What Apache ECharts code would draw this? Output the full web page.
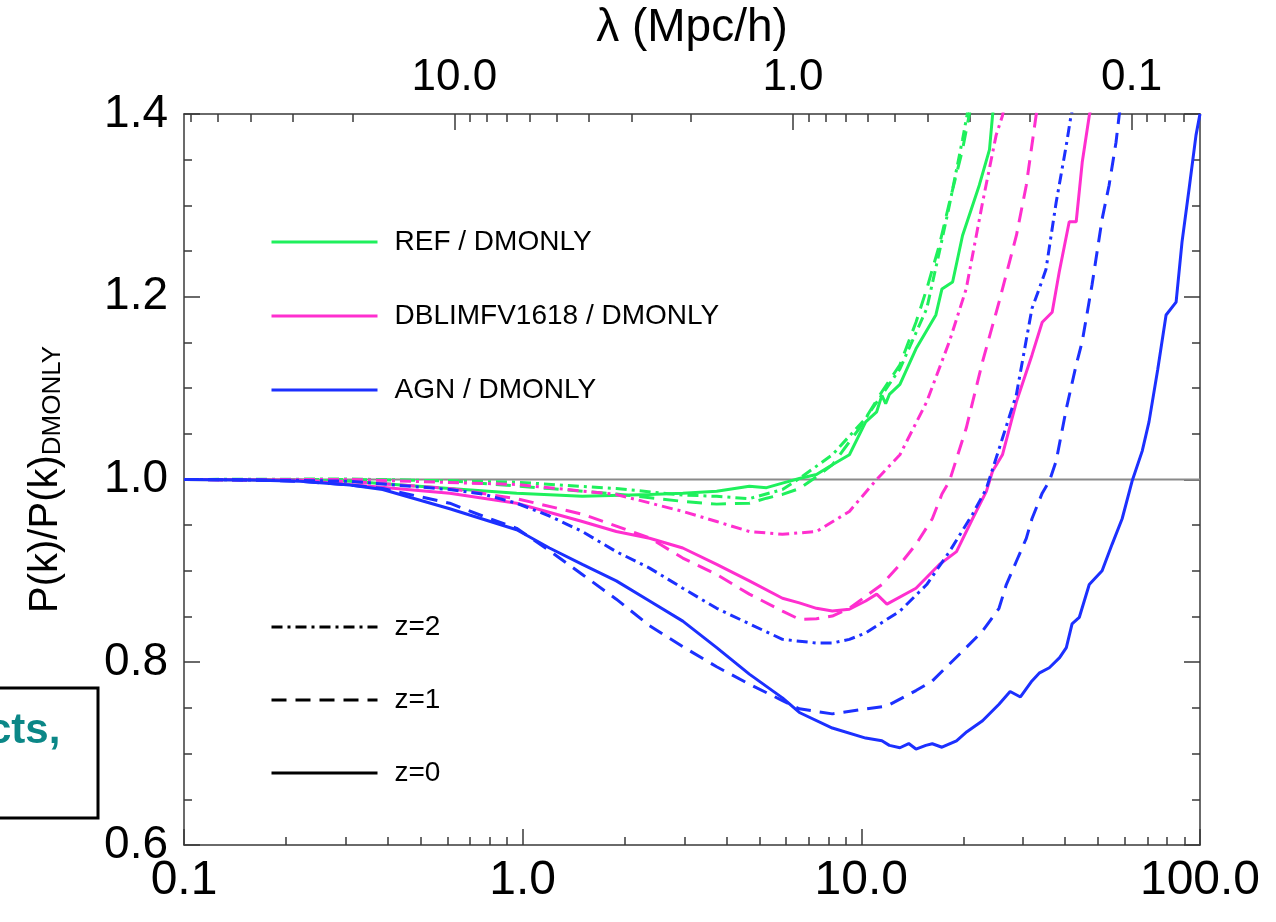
<!DOCTYPE html>
<html>
<head>
<meta charset="utf-8">
<script src="https://cdn.jsdelivr.net/npm/echarts@6/dist/echarts.min.js"></script>
<style>
html,body{margin:0;padding:0;background:#fff}
#chart{width:1276px;height:922px}
</style>
</head>
<body>
<div id="chart"></div>
<script>
/* P(k) ratio vs DMONLY, k in h/Mpc on bottom, lambda = 2pi/k on top */
var FONT = "'Liberation Sans', Arial, Helvetica, sans-serif";

var K_MAJOR = [0.1, 1, 10, 100];
var K_MINOR = [0.2,0.3,0.4,0.5,0.6,0.7,0.8,0.9, 2,3,4,5,6,7,8,9, 20,30,40,50,60,70,80,90];
var LAMBDA_MAJOR = [10, 1, 0.1];
var LAMBDA_MINOR = [0.07,0.08,0.09, 0.2,0.3,0.4,0.5,0.6,0.7,0.8,0.9, 2,3,4,5,6,7,8,9, 20,30,40,50,60];
var LAMBDA_MIN = 0.06283185, LAMBDA_MAX = 62.83185;

var UNITY = [[0.1,1.0],[100,1.0]];

var REF_Z0 = [[0.1,1.0],[0.22,0.9995],[0.309,0.998],[0.609,0.990],[0.96,0.985],[1.50,0.9815],[2.37,0.9835],
  [2.97,0.985],[3.74,0.987],[4.67,0.9925],[5.25,0.991],[5.85,0.996],[6.56,1.001],[7.37,1.0055],[8.21,1.016],
  [9.22,1.027],[10.3,1.063],[11.1,1.074],[11.5,1.092],[11.8,1.083],[12.1,1.093],[13.0,1.104],[14.5,1.143],
  [16.6,1.180],[17.3,1.2085],[18.6,1.216],[19.9,1.267],[22.3,1.322],[23.9,1.361],[24.4,1.398],[24.8,1.42]];
var REF_Z1 = [[0.1,1.0],[0.309,1.0],[0.61,0.9985],[1.2,0.990],[1.89,0.984],[2.97,0.976],[3.74,0.973],
  [4.67,0.974],[5.25,0.9795],[5.85,0.9836],[6.56,0.990],[7.37,1.003],[8.21,1.016],[9.87,1.056],[11.5,1.096],
  [13.0,1.1255],[14.5,1.172],[15.6,1.2085],[17.0,1.2565],[18.2,1.303],[19.9,1.361],[20.8,1.398],[21.3,1.42]];
var REF_Z2 = [[0.1,1.0],[0.309,1.0005],[0.96,0.997],[1.89,0.990],[2.97,0.983],[3.74,0.9815],[4.67,0.979],
  [5.85,0.989],[6.56,1.001],[8.21,1.027],[10.3,1.067],[13.0,1.121],[15.6,1.187],[17.0,1.249],[18.2,1.300],
  [19.1,1.339],[19.9,1.372],[20.5,1.398],[21.0,1.42]];

var DBL_Z0 = [[0.1,1.0],[0.22,0.9995],[0.309,0.9945],[0.609,0.985],[0.96,0.974],[1.50,0.954],[1.89,0.943],
  [2.37,0.9356],[2.97,0.925],[3.74,0.907],[4.67,0.889],[5.85,0.870],[6.56,0.865],[7.37,0.859],[8.21,0.856],
  [9.22,0.858],[10.3,0.867],[11.1,0.8745],[11.9,0.8636],[14.5,0.881],[17.0,0.907],[19.1,0.921],[21.3,0.957],
  [23.4,0.987],[24.4,1.009],[26.1,1.027],[28.7,1.085],[31.9,1.136],[34.2,1.172],[36.6,1.183],[38.4,1.227],
  [41.1,1.282],[43.1,1.282],[44.9,1.347],[47.1,1.398],[48.5,1.42]];
var DBL_Z1 = [[0.1,1.0],[0.309,0.998],[0.609,0.990],[0.96,0.979],[1.50,0.962],[2.37,0.936],[2.97,0.914],
  [3.74,0.896],[4.67,0.8745],[5.85,0.856],[6.56,0.847],[7.37,0.8475],[8.21,0.8505],[9.22,0.859],[11.5,0.885],
  [13.0,0.907],[14.5,0.929],[16.2,0.957],[17.3,0.984],[18.2,0.998],[20.4,1.056],[22.8,1.129],[25.5,1.194],
  [28.7,1.267],[30.7,1.322],[32.8,1.398],[33.5,1.42]];
var DBL_Z2 = [[0.1,1.0],[0.309,1.0],[0.96,0.9945],[1.89,0.9836],[2.97,0.965],[3.74,0.954],[4.67,0.943],
  [5.85,0.940],[7.37,0.943],[9.22,0.965],[11.1,1.0],[13.0,1.027],[15.6,1.085],[18.2,1.151],[20.4,1.2085],
  [22.8,1.303],[25.0,1.3765],[26.1,1.398],[26.8,1.42]];

var AGN_Z0 = [[0.1,1.0],[0.157,0.9995],[0.22,0.998],[0.309,0.994],[0.386,0.989],[0.609,0.968],[0.96,0.945],
  [1.20,0.925],[1.50,0.907],[1.89,0.889],[2.37,0.867],[2.97,0.845],[3.74,0.816],[4.67,0.787],[5.85,0.761],
  [6.56,0.745],[8.21,0.728],[10.3,0.717],[11.5,0.714],[12.1,0.709],[13.0,0.7064],[13.8,0.711],[14.5,0.705],
  [15.5,0.709],[16.2,0.7108],[17.3,0.707],[19.1,0.714],[20.5,0.724],[22.8,0.736],[25.5,0.754],[27.5,0.768],
  [29.5,0.762],[31.9,0.7795],[33.5,0.788],[35.9,0.794],[38.5,0.805],[40.3,0.816],[41.9,0.842],[44.0,0.849],
  [47.1,0.885],[51.4,0.900],[55.0,0.929],[58.9,0.957],[63.0,0.998],[67.5,1.031],[70.7,1.063],[75.0,1.120],
  [79.4,1.180],[85.0,1.194],[88.5,1.260],[93.0,1.320],[97.3,1.3765],[100,1.40]];
var AGN_Z1 = [[0.1,1.0],[0.157,0.9995],[0.22,0.998],[0.309,0.994],[0.386,0.990],[0.609,0.974],[0.762,0.960],
  [0.96,0.9465],[1.20,0.922],[1.50,0.896],[1.89,0.869],[2.37,0.840],[2.97,0.817],[3.74,0.795],[4.67,0.776],
  [5.85,0.758],[6.56,0.749],[8.21,0.7435],[10.3,0.749],[11.9,0.752],[14.5,0.769],[16.2,0.7795],[18.2,0.798],
  [20.4,0.816],[22.8,0.834],[25.5,0.859],[26.8,0.885],[28.7,0.9105],[30.7,0.9356],[31.9,0.957],[34.2,0.985],
  [35.9,0.998],[37.6,1.020],[40.3,1.0775],[43.1,1.1255],[44.9,1.151],[48.0,1.213],[51.4,1.285],[53.9,1.322],
  [56.5,1.369],[57.7,1.398],[59.0,1.42]];
var AGN_Z2 = [[0.1,1.0],[0.22,0.999],[0.309,0.998],[0.609,0.989],[0.762,0.984],[0.96,0.974],[1.20,0.960],
  [1.50,0.943],[1.89,0.921],[2.37,0.903],[2.97,0.881],[3.74,0.859],[4.67,0.842],[5.85,0.825],[7.37,0.821],
  [8.21,0.821],[9.22,0.825],[10.3,0.832],[13.0,0.856],[15.6,0.885],[18.2,0.921],[21.3,0.962],[23.4,0.990],
  [26.1,1.045],[28.7,1.093],[31.9,1.187],[33.5,1.2085],[35.1,1.230],[37.6,1.303],[40.3,1.366],[41.6,1.398],
  [43.0,1.42]];

var MODEL_NAMES = ["REF / DMONLY", "DBLIMFV1618 / DMONLY", "AGN / DMONLY"];
var Z_NAMES = ["z=2", "z=1", "z=0"];

var GREEN = "#1ff05c", MAGENTA = "#ff2fcf", BLUE = "#1c30ff", AXIS = "#3a3a3a";
var DASH = [15, 9], DASHDOT = [11, 5, 3, 5];

function line(name, data, color, dash){
  return { type:"line", name:name, data:data, xAxisIndex:0, yAxisIndex:0,
    showSymbol:false, symbol:"none", clip:true, silent:true, animation:false,
    lineStyle:{ color:color, width:3, type:dash }, itemStyle:{ color:color },
    emphasis:{ disabled:true } };
}
function fmt1(v){ return (+v).toFixed(1); }

var tickStyle = { color:AXIS, width:1.5 };
var lineAx = { show:true, onZero:false, lineStyle:{ color:AXIS, width:1.5 } };

var series = [
  line("unity", UNITY, "#8a8a8a", "solid"),
  line("REF z=2", REF_Z2, GREEN, DASHDOT),
  line("REF z=1", REF_Z1, GREEN, DASH),
  line("REF z=0", REF_Z0, GREEN, "solid"),
  line("DBL z=2", DBL_Z2, MAGENTA, DASHDOT),
  line("DBL z=1", DBL_Z1, MAGENTA, DASH),
  line("DBL z=0", DBL_Z0, MAGENTA, "solid"),
  line("AGN z=2", AGN_Z2, BLUE, DASHDOT),
  line("AGN z=1", AGN_Z1, BLUE, DASH),
  line("AGN z=0", AGN_Z0, BLUE, "solid"),
  /* legend-only entries */
  line(MODEL_NAMES[0], [], GREEN, "solid"),
  line(MODEL_NAMES[1], [], MAGENTA, "solid"),
  line(MODEL_NAMES[2], [], BLUE, "solid"),
  line(Z_NAMES[0], [], "#000", DASHDOT),
  line(Z_NAMES[1], [], "#000", DASH),
  line(Z_NAMES[2], [], "#000", "solid")
];
series[0].lineStyle.width = 2;

var legendText = { fontFamily:FONT, fontSize:28, color:"#000", lineHeight:28, padding:[0,0,0,12] };
var legendBase = { orient:"vertical", left:270, itemWidth:106, itemHeight:14, padding:0,
  selectedMode:false, textStyle:legendText, itemStyle:{ opacity:0 }, lineStyle:{ width:3 } };

var chart = echarts.init(document.getElementById("chart"), null, { renderer:"canvas" });
chart.setOption({
  animation:false,
  backgroundColor:"#fff",
  grid:{ left:184, right:76, top:112, bottom:77, containLabel:false },
  legend:[
    Object.assign({ data:MODEL_NAMES, top:228, itemGap:46 }, legendBase),
    Object.assign({ data:Z_NAMES, top:613, itemGap:45 }, legendBase)
  ],
  xAxis:[
    { type:"log", logBase:10, min:0.1, max:100, position:"bottom",
      axisLine:lineAx,
      axisTick:{ show:true, inside:true, length:16, customValues:K_MAJOR, lineStyle:tickStyle },
      axisLabel:{ customValues:K_MAJOR, formatter:fmt1, margin:12, fontSize:48, color:"#000", fontFamily:FONT },
      splitLine:{ show:false } },
    { type:"log", logBase:10, min:0.1, max:100, position:"bottom",
      axisLine:{ show:false },
      axisTick:{ show:true, inside:true, length:8, customValues:K_MINOR, lineStyle:tickStyle },
      axisLabel:{ show:false }, splitLine:{ show:false } },
    { type:"log", logBase:10, min:LAMBDA_MIN, max:LAMBDA_MAX, inverse:true, position:"top",
      axisLine:lineAx,
      axisTick:{ show:true, inside:true, length:16, customValues:LAMBDA_MAJOR, lineStyle:tickStyle },
      axisLabel:{ customValues:LAMBDA_MAJOR, formatter:fmt1, margin:14, fontSize:44, color:"#000", fontFamily:FONT },
      splitLine:{ show:false },
      name:"\u03bb (Mpc/h)", nameLocation:"middle", nameGap:58,
      nameTextStyle:{ fontSize:46, color:"#000", fontFamily:FONT } },
    { type:"log", logBase:10, min:LAMBDA_MIN, max:LAMBDA_MAX, inverse:true, position:"top",
      axisLine:{ show:false },
      axisTick:{ show:true, inside:true, length:8, customValues:LAMBDA_MINOR, lineStyle:tickStyle },
      axisLabel:{ show:false }, splitLine:{ show:false } }
  ],
  yAxis:[
    { type:"value", min:0.6, max:1.4, interval:0.2, position:"left",
      axisLine:lineAx,
      axisTick:{ show:true, inside:true, length:16, lineStyle:tickStyle },
      minorTick:{ show:true, splitNumber:4, length:8, lineStyle:tickStyle },
      axisLabel:{ formatter:fmt1, margin:16, fontSize:46, color:"#000", fontFamily:FONT },
      splitLine:{ show:false },
      name:"{a|P(k)/P(k)}{b|DMONLY}", nameLocation:"middle", nameGap:118, nameRotate:90,
      nameTextStyle:{ color:"#000", fontFamily:FONT,
        rich:{ a:{ fontSize:40, lineHeight:44, fontFamily:FONT, color:"#000", verticalAlign:"bottom" },
               b:{ fontSize:26, lineHeight:8, fontFamily:FONT, color:"#000", verticalAlign:"bottom" } } } },
    { type:"value", min:0.6, max:1.4, interval:0.2, position:"right",
      axisLine:lineAx,
      axisTick:{ show:true, inside:true, length:16, lineStyle:tickStyle },
      minorTick:{ show:true, splitNumber:4, length:8, lineStyle:tickStyle },
      axisLabel:{ show:false }, splitLine:{ show:false } }
  ],
  graphic:[
    { type:"rect", z:100, shape:{ x:-10, y:688, width:108, height:130 },
      style:{ fill:"#fff", stroke:"#000", lineWidth:3 } },
    { type:"text", z:101, style:{ x:-12, y:752, text:"cts,", fill:"#0b8787",
      font:"bold 42px " + FONT, textVerticalAlign:"bottom", verticalAlign:"bottom" } }
  ],
  series:series
});
</script>
</body>
</html>
